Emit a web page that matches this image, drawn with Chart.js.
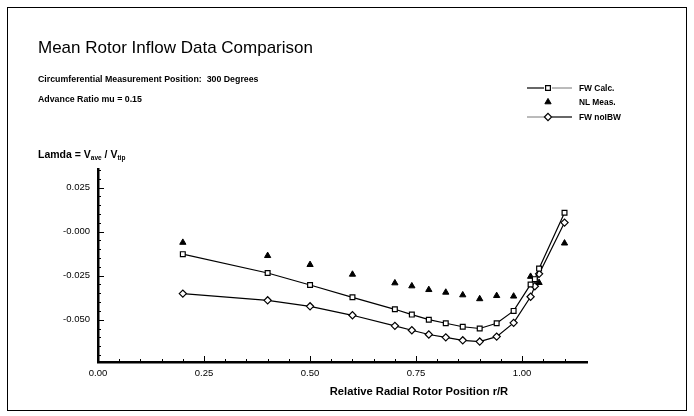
<!DOCTYPE html>
<html>
<head>
<meta charset="utf-8">
<title>Mean Rotor Inflow Data Comparison</title>
<script src="https://cdn.jsdelivr.net/npm/chart.js@4.4.1/dist/chart.umd.min.js"></script>
<style>
    html, body { margin: 0; padding: 0; background: #fff; }
    #wrap { position: relative; width: 694px; height: 416px; overflow: hidden; font-family: "Liberation Sans", Arial, Helvetica, sans-serif; color: #000; }
    #chart { position: absolute; left: 0; top: 0; }
    .frame { position: absolute; left: 7px; top: 7px; width: 678px; height: 402px; border: 1.5px solid #000; }
    .txt { position: absolute; white-space: pre; line-height: 1; transform: translateY(-50%); }
    .title { left: 38px; top: 47px; font-size: 17px; }
    .sub { font-size: 8.8px; font-weight: bold; left: 38px; }
    .ylab { left: 38px; top: 155px; font-size: 10.5px; font-weight: bold; }
    .ylab sub { font-size: 6.5px; vertical-align: -2px; }
    .xlab { left: 419px; top: 392px; font-size: 11.2px; font-weight: bold; transform: translate(-50%, -50%); }
    .leg { left: 579px; font-size: 8.4px; font-weight: bold; }
</style>
</head>
<body>
<div id="wrap">
    <canvas id="chart" width="694" height="416"></canvas>
    <div class="frame"></div>
    <div class="txt title">Mean Rotor Inflow Data Comparison</div>
    <div class="txt sub" style="top:79px">Circumferential Measurement Position:  300 Degrees</div>
    <div class="txt sub" style="top:99px">Advance Ratio mu = 0.15</div>
    <div class="txt ylab">Lamda = V<sub>ave</sub> / V<sub>tip</sub></div>
    <div class="txt xlab">Relative Radial Rotor Position r/R</div>
    <div class="txt leg" style="top:88px">FW Calc.</div>
    <div class="txt leg" style="top:102px">NL Meas.</div>
    <div class="txt leg" style="top:117px">FW noIBW</div>
</div>
<script>
const radiusCalc = [0.20, 0.40, 0.50, 0.60, 0.70, 0.74, 0.78, 0.82, 0.86, 0.90, 0.94, 0.98, 1.02, 1.03, 1.04, 1.10];
const fwCalc = [-0.0128, -0.0235, -0.0303, -0.0373, -0.0441, -0.0471, -0.0500, -0.0520, -0.0540, -0.0550, -0.0520, -0.0450, -0.0300, -0.0270, -0.0210, 0.0107];
const fwNoIBW = [-0.0352, -0.0390, -0.0424, -0.0475, -0.0535, -0.0560, -0.0584, -0.0600, -0.0617, -0.0624, -0.0596, -0.0518, -0.0370, -0.0310, -0.0240, 0.0051];

const radiusMeas = [0.20, 0.40, 0.50, 0.60, 0.70, 0.74, 0.78, 0.82, 0.86, 0.90, 0.94, 0.98, 1.02, 1.04, 1.10];
const nlMeas = [-0.0062, -0.0137, -0.0188, -0.0243, -0.0292, -0.0309, -0.0330, -0.0345, -0.0360, -0.0382, -0.0364, -0.0367, -0.0255, -0.0290, -0.0066];

const xTicks = [0, 0.25, 0.50, 0.75, 1.00];
const yTicks = [-0.050, -0.025, 0, 0.025];

document.addEventListener('DOMContentLoaded', function() {
    const pairs = (xs, ys) => xs.map((x, i) => ({ x: x, y: ys[i] }));

    // inward major ticks, minor ticks and the legend samples
    const decorations = {
        id: 'decorations',
        afterDatasetsDraw(chart) {
            const ctx = chart.ctx;
            const xs = chart.scales.x;
            const ys = chart.scales.y;
            const area = chart.chartArea;
            ctx.save();
            ctx.strokeStyle = '#000';
            ctx.lineWidth = 1;
            for (let v = 0.05; v < 1.15; v += 0.05) {
                const px = Math.round(xs.getPixelForValue(v)) + 0.5;
                const major = Math.abs(v / 0.25 - Math.round(v / 0.25)) < 1e-6;
                ctx.beginPath();
                ctx.moveTo(px, area.bottom);
                ctx.lineTo(px, area.bottom - (major ? 6 : 3));
                ctx.stroke();
            }
            for (let v = -0.070; v < 0.035; v += 0.005) {
                const py = Math.round(ys.getPixelForValue(v)) + 0.5;
                const major = Math.abs(v / 0.025 - Math.round(v / 0.025)) < 1e-6;
                ctx.beginPath();
                ctx.moveTo(area.left, py);
                ctx.lineTo(area.left + (major ? 6 : 3), py);
                ctx.stroke();
            }

            const segment = (x1, x2, y, solid) => {
                ctx.beginPath();
                ctx.lineWidth = solid ? 1.2 : 1;
                ctx.strokeStyle = solid ? '#000' : '#777';
                ctx.moveTo(x1, y);
                ctx.lineTo(x2, y);
                ctx.stroke();
            };
            const marker = (ds, y) => {
                ctx.fillStyle = ds.pointBackgroundColor;
                ctx.strokeStyle = ds.pointBorderColor;
                ctx.lineWidth = ds.pointBorderWidth;
                Chart.helpers.drawPoint(ctx, {
                    pointStyle: ds.pointStyle,
                    radius: ds.pointRadius,
                    borderWidth: ds.pointBorderWidth
                }, 548, y);
            };
            const dsets = chart.data.datasets;
            segment(527, 544, 88, true);
            segment(552, 572, 88, false);
            marker(dsets[0], 88);
            marker(dsets[1], 102);
            segment(527, 544, 117, false);
            segment(552, 572, 117, true);
            marker(dsets[2], 117);
            ctx.restore();
        }
    };

    const ctx = document.getElementById('chart').getContext('2d');
    new Chart(ctx, {
        type: 'scatter',
        data: {
            datasets: [
                {
                    label: 'FW Calc.',
                    data: pairs(radiusCalc, fwCalc),
                    showLine: true,
                    borderColor: '#000',
                    borderWidth: 1.2,
                    pointStyle: 'rect',
                    pointRadius: 3.4,
                    pointBorderWidth: 1.2,
                    pointBorderColor: '#000',
                    pointBackgroundColor: '#fff'
                },
                {
                    label: 'NL Meas.',
                    data: pairs(radiusMeas, nlMeas),
                    showLine: false,
                    pointStyle: 'triangle',
                    pointRadius: 3.6,
                    pointBorderWidth: 1,
                    pointBorderColor: '#000',
                    pointBackgroundColor: '#000'
                },
                {
                    label: 'FW noIBW',
                    data: pairs(radiusCalc, fwNoIBW),
                    showLine: true,
                    borderColor: '#000',
                    borderWidth: 1.2,
                    pointStyle: 'rectRot',
                    pointRadius: 3.6,
                    pointBorderWidth: 1.2,
                    pointBorderColor: '#000',
                    pointBackgroundColor: '#fff'
                }
            ]
        },
        options: {
            responsive: false,
            animation: false,
            layout: {
                padding: { left: 0, top: 169, right: 107, bottom: 34 }
            },
            plugins: {
                legend: { display: false },
                tooltip: { enabled: false }
            },
            scales: {
                x: {
                    type: 'linear',
                    min: 0,
                    max: 1.153,
                    afterFit: (scale) => { scale.height = 20; },
                    afterBuildTicks: (scale) => { scale.ticks = xTicks.map(v => ({ value: v })); },
                    grid: { display: false, drawTicks: false },
                    border: { display: true, color: '#000', width: 2.5 },
                    ticks: {
                        padding: 6,
                        color: '#000',
                        font: { family: '"Liberation Sans", Arial, sans-serif', size: 9.5 },
                        callback: (v) => v.toFixed(2)
                    }
                },
                y: {
                    type: 'linear',
                    min: -0.074,
                    max: 0.0355,
                    afterFit: (scale) => { scale.width = 98; },
                    afterBuildTicks: (scale) => { scale.ticks = yTicks.map(v => ({ value: v })); },
                    grid: { display: false, drawTicks: false },
                    border: { display: true, color: '#000', width: 2.5 },
                    ticks: {
                        padding: 8,
                        color: '#000',
                        font: { family: '"Liberation Sans", Arial, sans-serif', size: 9.5 },
                        callback: (v) => (v === 0 ? '-0.000' : v.toFixed(3))
                    }
                }
            }
        },
        plugins: [decorations]
    });
});
</script>
</body>
</html>
